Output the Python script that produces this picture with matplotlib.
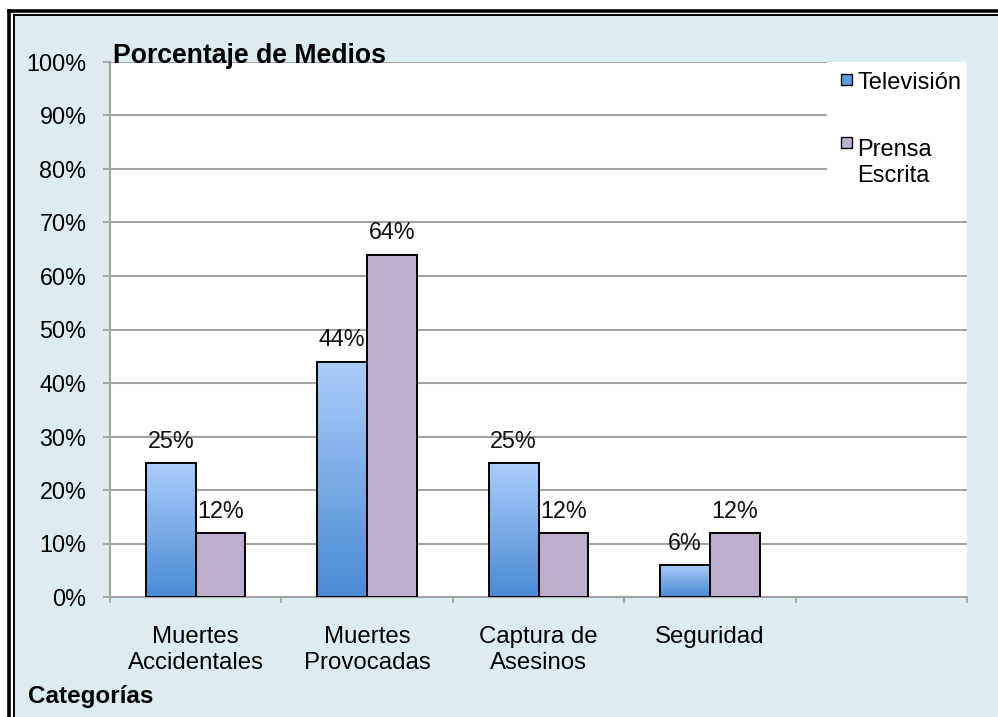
import numpy as np
import matplotlib
matplotlib.use("Agg")
import matplotlib.pyplot as plt
from matplotlib.patches import Rectangle
from matplotlib.lines import Line2D
from matplotlib.colors import LinearSegmentedColormap

plt.rcParams['font.family'] = ['Liberation Sans', 'DejaVu Sans']

categorias = ["Muertes\nAccidentales", "Muertes\nProvocadas", "Captura de\nAsesinos", "Seguridad"]
television = [25, 44, 25, 6]
prensa = [12, 64, 12, 12]
series = ["Televisión", "Prensa\nEscrita"]
yticks = [0, 10, 20, 30, 40, 50, 60, 70, 80, 90, 100]

W, H = 998, 717
fondo = '#ddecf1'
gris = '#a3a3a3'
lila = '#bdaecc'
azul_arriba = '#abcdf9'
azul_abajo = '#4a8ad4'

fig = plt.figure(figsize=(W / 100, H / 100), dpi=100)
fig.patch.set_facecolor('white')

# marco doble y fondo celeste
fig.add_artist(Rectangle((15 / W, 0), 1, 1 - 16 / H, transform=fig.transFigure,
                         facecolor=fondo, edgecolor='none', zorder=-10))
for x, y, lw in [(9.3, 11.0, 2.6), (13.7, 14.8, 1.4)]:
    fig.add_artist(Line2D([x / W, x / W], [1 - y / H, 0], transform=fig.transFigure, color='black', lw=lw))
    fig.add_artist(Line2D([x / W, 1], [1 - y / H, 1 - y / H], transform=fig.transFigure, color='black', lw=lw))

ax = fig.add_axes([110 / W, 1 - 597 / H, (967 - 110) / W, (597 - 62) / H])
ax.set_facecolor('white')

x = np.arange(len(categorias))
w = 0.29
grad = LinearSegmentedColormap.from_list('tv', [azul_abajo, azul_arriba])
img = np.linspace(0, 1, 256).reshape(-1, 1)

barras_tv = ax.bar(x - w / 2, television, w, facecolor='none', edgecolor='black', lw=1.4, zorder=4)
for b in barras_tv:
    x0, h = b.get_x(), b.get_height()
    im = ax.imshow(img, extent=[x0, x0 + b.get_width(), 0, h], origin='lower',
                   aspect='auto', cmap=grad, zorder=3)
    im.set_clip_path(b)
barras_pr = ax.bar(x + w / 2, prensa, w, color=lila, edgecolor='black', lw=1.4, zorder=4)

for barras in [barras_tv, barras_pr]:
    for b in barras:
        ax.annotate(f"{int(b.get_height())}%", (b.get_x() + b.get_width() / 2, b.get_height()),
                    xytext=(0, 11), textcoords='offset points', ha='center', va='baseline',
                    fontsize=16.8, color='#111111', zorder=6)

ax.set_xlim(-0.5, 4.5)
ax.set_ylim(0, 100)
ax.set_yticks(yticks)
ax.set_yticklabels([f"{v}%" for v in yticks], fontsize=16.8)
ax.yaxis.grid(True, color=gris, lw=1.5, zorder=0)
ax.set_axisbelow(True)
ax.tick_params(axis='y', length=5, width=1.3, color=gris, pad=12)

ax.set_xticks(x)
ax.set_xticklabels(categorias, fontsize=17.3)
ax.set_xticks(np.arange(-0.5, 5, 1), minor=True)
ax.tick_params(axis='x', which='major', length=0, pad=21)
ax.tick_params(axis='x', which='minor', length=4.5, width=1.3, color=gris)

for s in ['top', 'right']:
    ax.spines[s].set_visible(False)
for s in ['left', 'bottom']:
    ax.spines[s].set_color(gris)
    ax.spines[s].set_linewidth(1.5)

# leyenda
ax.add_patch(Rectangle((0.8366, 0.733), 0.1634, 0.267, transform=ax.transAxes,
                       facecolor='white', edgecolor='none', zorder=5))
fig.add_artist(Rectangle((841 / W, 1 - 85 / H), 11 / W, 11 / H, transform=fig.transFigure,
                         facecolor='#5c9ae2', edgecolor='black', lw=1.0, zorder=6))
fig.add_artist(Rectangle((841 / W, 1 - 148 / H), 11 / W, 11 / H, transform=fig.transFigure,
                         facecolor=lila, edgecolor='black', lw=1.0, zorder=6))
fig.text(857 / W, 1 - 89 / H, series[0], fontsize=17, va='baseline', zorder=7)
# con varias lineas la base es la de la ultima linea
fig.text(857 / W, 1 - 182 / H, series[1], fontsize=17, va='baseline', linespacing=1.25, zorder=7)

fig.text(113 / W, 1 - 63 / H, "Porcentaje de Medios", fontsize=19.2, fontweight='bold', va='baseline', zorder=7)
fig.text(28 / W, 1 - 703 / H, "Categorías", fontsize=17.5, fontweight='bold', va='baseline')

fig.savefig("out.png", dpi=100, facecolor=fig.get_facecolor())
